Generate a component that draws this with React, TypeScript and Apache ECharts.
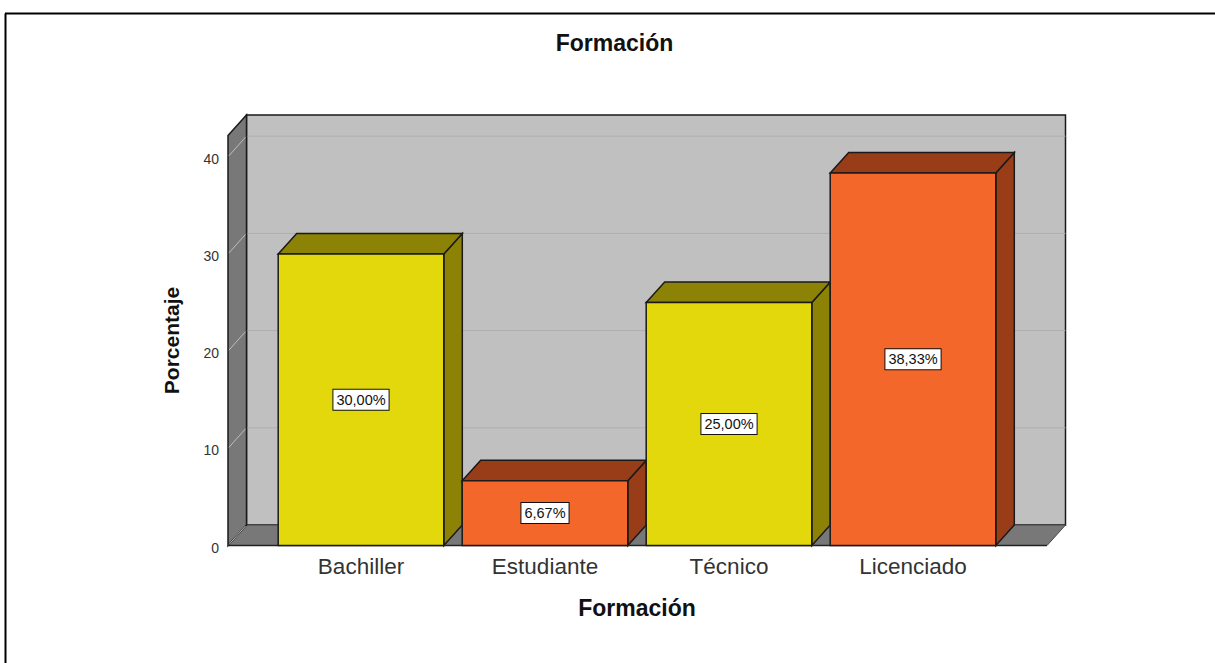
import React, { useEffect, useRef } from "react";
import * as echarts from "echarts";

const categories = ["Bachiller", "Estudiante", "Técnico", "Licenciado"];
const percentages = [30.0, 6.67, 25.0, 38.33];
const yTicks = [0, 10, 20, 30, 40];
const chartTitle = "Formación";
const xTitle = "Formación";
const yTitle = "Porcentaje";
const FRONT = ["#E3D80C", "#F4672A", "#E3D80C", "#F4672A"];
const SHADE = ["#8B8206", "#983D18", "#8B8206", "#983D18"];

const DX = 18.5;
const DY = 20.5;
const LEFT_GAP = 41;
const RIGHT_GAP = 42;
const OUTLINE = "#1a1a1a";
const FONT = "'Liberation Sans', Arial, sans-serif";

export default function App() {
  const ref = useRef<HTMLDivElement>(null);
  useEffect(() => {
    const chart = echarts.init(ref.current!, null, { renderer: "svg" });

    const renderRoom = (params: any, api: any) => {
      const c = params.coordSys;
      const l = c.x - LEFT_GAP;
      const r = c.x + c.width + RIGHT_GAP;
      const t = c.y;
      const b = c.y + c.height;
      const children: any[] = [
        { type: "rect", shape: { x: l + DX, y: t - DY, width: r - l, height: b - t }, style: { fill: "#C0C0C0", stroke: OUTLINE, lineWidth: 1.5 } },
        { type: "polygon", shape: { points: [[l, b], [l + DX, b - DY], [r + DX, b - DY], [r, b]] }, style: { fill: "#787878", stroke: "#444", lineWidth: 1 } },
        { type: "polygon", shape: { points: [[l, t], [l + DX, t - DY], [l + DX, b - DY], [l, b]] }, style: { fill: "#787878", stroke: OUTLINE, lineWidth: 1.5 } },
      ];
      yTicks.forEach((v) => {
        const y = api.coord([0, v])[1];
        if (v > 0) {
          children.push({ type: "line", shape: { x1: l + DX + 1, y1: y - DY, x2: r + DX, y2: y - DY }, style: { stroke: "#AEAEAE", lineWidth: 1 } });
        }
        children.push({ type: "line", shape: { x1: l + 1, y1: y - 1, x2: l + DX - 1, y2: y - DY + 1 }, style: { stroke: "#BEBEBE", lineWidth: 1 } });
      });
      children.push({ type: "line", shape: { x1: l, y1: b, x2: r, y2: b }, style: { stroke: "#222", lineWidth: 1.5 } });
      return { type: "group", children };
    };

    const renderBar = (params: any, api: any) => {
      const i = api.value(0);
      const v = api.value(1);
      const band = api.size([1, 0])[0];
      const w = band * 0.9;
      const [cx, top] = api.coord([i, v]);
      const bottom = api.coord([i, 0])[1];
      const x0 = cx - w / 2;
      const x1 = cx + w / 2;
      const stroke = { stroke: OUTLINE, lineWidth: 1.5 };
      const label = percentages[i].toFixed(2).replace(".", ",") + "%";
      return {
        type: "group",
        children: [
          { type: "polygon", shape: { points: [[x1, bottom], [x1 + DX, bottom - DY], [x1 + DX, top - DY], [x1, top]] }, style: { fill: SHADE[i], ...stroke } },
          { type: "polygon", shape: { points: [[x0, top], [x0 + DX, top - DY], [x1 + DX, top - DY], [x1, top]] }, style: { fill: SHADE[i], ...stroke } },
          { type: "rect", shape: { x: x0, y: top, width: w, height: bottom - top }, style: { fill: FRONT[i], ...stroke } },
          {
            type: "text",
            x: cx,
            y: (top + bottom) / 2,
            style: {
              text: label,
              fill: "#111",
              font: `14.5px ${FONT}`,
              align: "center",
              verticalAlign: "middle",
              backgroundColor: "#fff",
              borderColor: "#111",
              borderWidth: 1,
              padding: [3, 3, 2, 3],
            },
          },
        ],
      };
    };

    chart.setOption({
      animation: false,
      backgroundColor: "#fff",
      title: {
        text: chartTitle,
        left: 609.5,
        top: 26,
        textAlign: "center",
        textStyle: { fontFamily: FONT, fontSize: 23, fontWeight: "bold", color: "#111" },
      },
      grid: { left: 269, top: 135.5, width: 736, height: 410 },
      xAxis: {
        type: "category",
        data: categories,
        name: xTitle,
        nameLocation: "middle",
        nameGap: 51,
        nameTextStyle: { fontFamily: FONT, fontSize: 23, fontWeight: "bold", color: "#111" },
        axisLine: { show: false },
        axisTick: { show: false },
        axisLabel: { fontFamily: FONT, fontSize: 22.5, color: "#333", margin: 9 },
        z: 5,
      },
      yAxis: {
        type: "value",
        min: 0,
        max: 42.18,
        offset: LEFT_GAP,
        name: yTitle,
        nameLocation: "middle",
        nameGap: 46,
        nameTextStyle: { fontFamily: FONT, fontSize: 21, fontWeight: "bold", color: "#111" },
        axisLine: { show: false },
        axisTick: { show: false },
        splitLine: { show: false },
        axisLabel: { customValues: yTicks, fontFamily: FONT, fontSize: 14, color: "#333", margin: 9, verticalAlign: "top", lineHeight: 4 },
      },
      series: [
        { type: "custom", renderItem: renderRoom, data: [[0, 0]], silent: true, z: 1, clip: false },
        { type: "custom", renderItem: renderBar, data: percentages.map((v, i) => [i, v]), silent: true, z: 2, clip: false, encode: { x: 0, y: 1 } },
      ],
      graphic: [
        { type: "line", shape: { x1: 5.5, y1: 663, x2: 5.5, y2: 13.5 }, style: { stroke: "#000", lineWidth: 2 }, silent: true },
        { type: "line", shape: { x1: 5, y1: 13.5, x2: 1215, y2: 13.5 }, style: { stroke: "#000", lineWidth: 2 }, silent: true },
      ],
    });
    return () => chart.dispose();
  }, []);
  return <div ref={ref} style={{ position: "fixed", left: 0, top: 0, width: 1215, height: 663 }} />;
}
